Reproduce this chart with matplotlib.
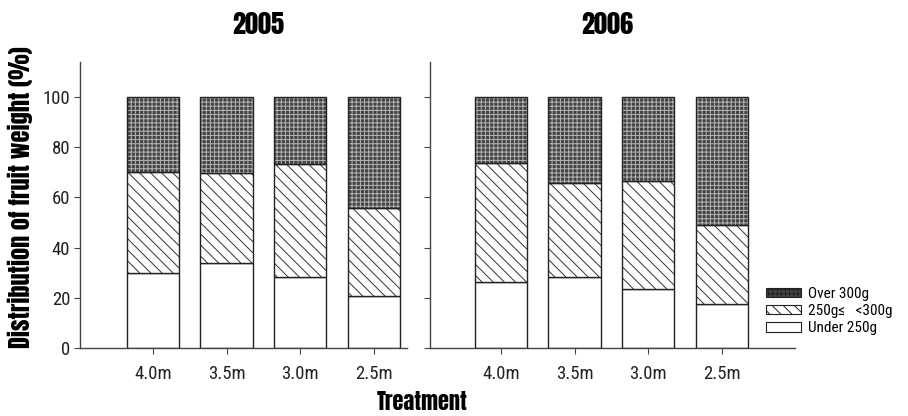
import matplotlib.pyplot as plt
from matplotlib.patches import Patch

plt.rcParams['font.family'] = ['Roboto Condensed', 'Liberation Sans', 'DejaVu Sans']
plt.rcParams['hatch.linewidth'] = 0.7
heavy = ['Anton', 'Roboto Condensed', 'Liberation Sans']

treatments = ['4.0m', '3.5m', '3.0m', '2.5m']
labels = ['Under 250g', '250g\u2264   <300g', 'Over 300g']

under_2005 = [29.8, 33.7, 28.4, 20.8]
mid_2005 = [40.2, 35.9, 44.8, 35.2]
over_2005 = [30.0, 30.4, 26.8, 44.0]

under_2006 = [26.4, 28.2, 23.5, 17.4]
mid_2006 = [47.2, 37.4, 43.0, 31.6]
over_2006 = [26.4, 34.4, 33.5, 51.0]

styles = [
    dict(facecolor='white', hatch=None, hcolor='white'),
    dict(facecolor='white', hatch='\\\\\\', hcolor='#333333'),
    dict(facecolor='#444444', hatch='++++', hcolor='#b4b4b4'),
]

fig = plt.figure(figsize=(9.08, 4.16), dpi=100)
ax1 = fig.add_axes([80 / 908, 68 / 416, 327 / 908, 286 / 416])
ax2 = fig.add_axes([430 / 908, 68 / 416, 365 / 908, 286 / 416])


def draw_year(ax, series, xlim, show_ylabels):
    x = range(len(treatments))
    bottom = [0] * len(treatments)
    for vals, st in zip(series, styles):
        # fill + hatch first, then a plain outline on top
        ax.bar(x, vals, 0.71, bottom=bottom, color=st['facecolor'],
               edgecolor=st['hcolor'], hatch=st['hatch'], linewidth=0)
        ax.bar(x, vals, 0.71, bottom=bottom, fill=False,
               edgecolor='#222222', linewidth=1.0)
        bottom = [b + v for b, v in zip(bottom, vals)]
    ax.set_xlim(*xlim)
    ax.set_ylim(0, 114)
    ax.set_xticks(list(x))
    ax.set_xticklabels(treatments)
    ax.set_yticks([0, 20, 40, 60, 80, 100])
    if not show_ylabels:
        ax.set_yticklabels([])
    ax.tick_params(axis='both', length=4, width=0.8, color='#444444',
                   labelsize=13.5, pad=3, labelcolor='#222222')
    ax.tick_params(axis='x', pad=8)
    for s in ['top', 'right']:
        ax.spines[s].set_visible(False)
    for s in ['left', 'bottom']:
        ax.spines[s].set_color('#444444')
        ax.spines[s].set_linewidth(1.0)


draw_year(ax1, [under_2005, mid_2005, over_2005], (-0.99, 3.45), True)
draw_year(ax2, [under_2006, mid_2006, over_2006], (-0.96, 3.99), False)

fig.text(258 / 908, 1 - 24 / 416, '2005', ha='center', va='center',
         fontsize=19, family=heavy)
fig.text(607 / 908, 1 - 24 / 416, '2006', ha='center', va='center',
         fontsize=19, family=heavy)
fig.text(20 / 908, 1 - 197 / 416, 'Distribution of fruit weight (%)', rotation=90,
         ha='center', va='center', fontsize=17.5, family=heavy)
fig.text(422 / 908, 1 - 402 / 416, 'Treatment', ha='center', va='center',
         fontsize=16, family=heavy)

handles = [Patch(facecolor=st['facecolor'], edgecolor='#222222', hatch=st['hatch'],
                 linewidth=0.8) for st in styles]
fig.legend(handles[::-1], labels[::-1], loc='center left',
           bbox_to_anchor=(758 / 908, 1 - 311 / 416), frameon=False,
           fontsize=11, handlelength=2.3, handleheight=0.6,
           handletextpad=0.5, labelspacing=0.2, borderpad=0)

fig.savefig('out.png', dpi=100)
